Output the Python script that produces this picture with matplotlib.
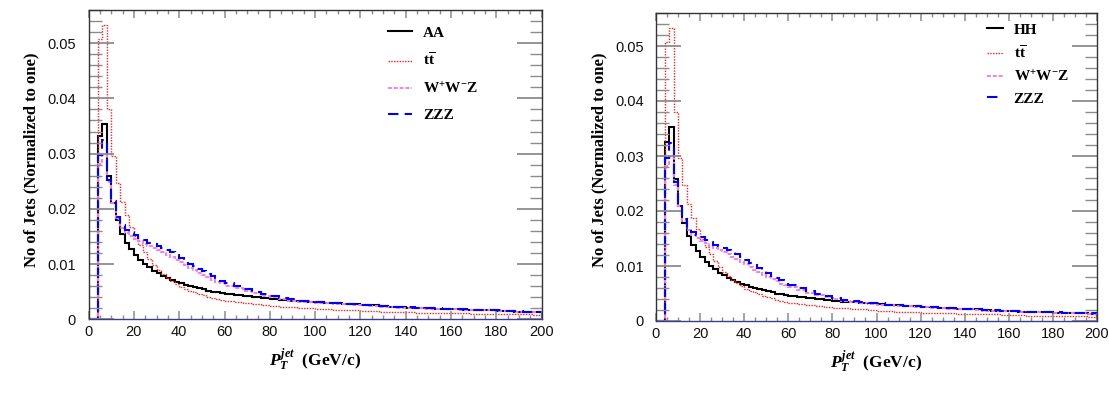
import numpy as np
import matplotlib
matplotlib.use("Agg")
import matplotlib.pyplot as plt

plt.rcParams["mathtext.fontset"] = "custom"
plt.rcParams["mathtext.rm"] = "Liberation Serif:bold"
plt.rcParams["mathtext.it"] = "Liberation Serif:bold:italic"
plt.rcParams["mathtext.bf"] = "Liberation Serif:bold"

# bin edges: empty 0-4 bin, 2 GeV bins up to 60, 4 GeV bins up to 200
edges = np.concatenate([[0], np.arange(4, 60, 2), np.arange(60, 201, 4)])

# jet pT distributions (normalised), one value per bin starting at 4 GeV
aa = [0.0332, 0.0354, 0.0260, 0.0210, 0.0179, 0.0155, 0.0138, 0.0127, 0.0117, 0.0107,
      0.0100, 0.0094, 0.0088, 0.0083, 0.0079, 0.0075, 0.0071, 0.0068, 0.0065, 0.0062,
      0.0060, 0.0058, 0.0056, 0.0054, 0.0052, 0.0050, 0.0049, 0.0047,
      0.0046, 0.0044, 0.0042, 0.0040, 0.0038, 0.0036, 0.0035, 0.0034, 0.0033, 0.0032,
      0.0031, 0.0030, 0.0029, 0.0028, 0.0027, 0.0026, 0.0025, 0.0024, 0.0023, 0.0022,
      0.0021, 0.0021, 0.0020, 0.0019, 0.0019, 0.0018, 0.0017, 0.0017, 0.0016, 0.0016,
      0.0015, 0.0015, 0.0014, 0.0014, 0.0013]
hh = [0.0326, 0.0352, 0.0259, 0.0210, 0.0178, 0.0155, 0.0138, 0.0127, 0.0117, 0.0107,
      0.0100, 0.0094, 0.0088, 0.0083, 0.0079, 0.0075, 0.0071, 0.0068, 0.0065, 0.0062,
      0.0060, 0.0058, 0.0056, 0.0054, 0.0052, 0.0050, 0.0049, 0.0047,
      0.0046, 0.0044, 0.0042, 0.0040, 0.0038, 0.0036, 0.0035, 0.0034, 0.0033, 0.0032,
      0.0031, 0.0030, 0.0029, 0.0028, 0.0027, 0.0026, 0.0025, 0.0024, 0.0023, 0.0022,
      0.0021, 0.0021, 0.0020, 0.0019, 0.0019, 0.0018, 0.0017, 0.0017, 0.0016, 0.0016,
      0.0015, 0.0015, 0.0014, 0.0014, 0.0013]
ttbar = [0.0507, 0.0533, 0.0380, 0.0296, 0.0247, 0.0212, 0.0188, 0.0167, 0.0150, 0.0135,
         0.0121, 0.0109, 0.0099, 0.0090, 0.0082, 0.0075, 0.0069, 0.0064, 0.0059, 0.0055,
         0.0052, 0.0049, 0.0046, 0.0044, 0.0041, 0.0039, 0.0037, 0.0035,
         0.0033, 0.0031, 0.0029, 0.0027, 0.0025, 0.0024, 0.0023, 0.0022, 0.0021, 0.0020,
         0.0019, 0.0018, 0.0017, 0.0017, 0.0016, 0.0015, 0.0015, 0.0014, 0.0014, 0.0013,
         0.0013, 0.0012, 0.0012, 0.0012, 0.0011, 0.0011, 0.0011, 0.0010, 0.0010, 0.0010,
         0.0009, 0.0009, 0.0009, 0.0009, 0.0008]
wwz = [0.0282, 0.0298, 0.0248, 0.0210, 0.0182, 0.0166, 0.0157, 0.0151, 0.0146, 0.0141,
       0.0137, 0.0133, 0.0129, 0.0125, 0.0121, 0.0117, 0.0112, 0.0108, 0.0103, 0.0098,
       0.0093, 0.0089, 0.0084, 0.0080, 0.0076, 0.0072, 0.0068, 0.0065,
       0.0061, 0.0056, 0.0051, 0.0047, 0.0043, 0.0040, 0.0037, 0.0034, 0.0032, 0.0031,
       0.0030, 0.0029, 0.0028, 0.0027, 0.0026, 0.0025, 0.0024, 0.0023, 0.0022, 0.0021,
       0.0021, 0.0020, 0.0019, 0.0019, 0.0018, 0.0018, 0.0017, 0.0017, 0.0016, 0.0016,
       0.0015, 0.0015, 0.0014, 0.0014, 0.0013]
zzz = [0.0297, 0.0324, 0.0253, 0.0215, 0.0185, 0.0170, 0.0162, 0.0157, 0.0152, 0.0147,
       0.0143, 0.0139, 0.0136, 0.0133, 0.0129, 0.0125, 0.0121, 0.0116, 0.0111, 0.0106,
       0.0101, 0.0096, 0.0091, 0.0087, 0.0082, 0.0078, 0.0074, 0.0070,
       0.0066, 0.0060, 0.0055, 0.0050, 0.0046, 0.0042, 0.0039, 0.0036, 0.0034, 0.0033,
       0.0032, 0.0030, 0.0029, 0.0028, 0.0027, 0.0026, 0.0025, 0.0024, 0.0023, 0.0022,
       0.0022, 0.0021, 0.0020, 0.0020, 0.0019, 0.0018, 0.0018, 0.0017, 0.0017, 0.0016,
       0.0016, 0.0015, 0.0015, 0.0014, 0.0014]

xticks = [0, 20, 40, 60, 80, 100, 120, 140, 160, 180, 200]
yticks = [0, 0.01, 0.02, 0.03, 0.04, 0.05]
ytick_labels = ["0", "0.01", "0.02", "0.03", "0.04", "0.05"]

styles = {
    "sig": dict(color="black", lw=1.5, ls="-"),
    "tt": dict(color="#ff2020", lw=1.0, ls=(0, (1, 1))),
    "wwz": dict(color="#f07ff0", lw=1.4, ls=(0, (2, 1))),
    "zzz": dict(color="#0000ff", lw=1.5, ls=(0, (5, 3))),
}

fig = plt.figure(figsize=(11.09, 3.99), dpi=100)


def draw_panel(rect, signal, sig_name, leg_anchor, handlelen, spacing, ylab_x):
    ax = fig.add_axes(rect)
    series = [(signal, sig_name, "sig"),
              (ttbar, r"$\mathrm{t}\overline{\mathrm{t}}$", "tt"),
              (wwz, r"$\mathrm{W^{+}W^{-}Z}$", "wwz"),
              (zzz, "ZZZ", "zzz")]
    handles = []
    for vals, name, key in series:
        v = np.concatenate([[0.0], vals])
        ax.stairs(v, edges, baseline=0, **styles[key])
        h, = ax.plot([], [], label=name, **styles[key])
        handles.append(h)
    ax.set_xlim(0, 200)
    ax.set_ylim(0, 0.056)
    ax.set_xticks(xticks)
    ax.set_xticklabels([str(t) for t in xticks])
    ax.set_xticks(np.arange(0, 201, 5), minor=True)
    ax.set_yticks(yticks)
    ax.set_yticklabels(ytick_labels)
    ax.set_yticks(np.arange(0, 0.0561, 0.002), minor=True)
    ax.tick_params(axis="both", which="both", direction="in", top=True, right=True,
                   color="#8c8c8c", labelsize=10.5, labelcolor="#111111")
    ax.tick_params(axis="x", which="major", length=6, width=1.1, pad=4)
    ax.tick_params(axis="x", which="minor", length=3, width=1.0)
    ax.tick_params(axis="y", which="major", length=18, width=1.3, pad=9)
    ax.tick_params(axis="y", which="minor", length=9, width=1.0)
    for lab in ax.get_xticklabels() + ax.get_yticklabels():
        lab.set_fontfamily("Liberation Sans")
    for s in ax.spines.values():
        s.set_color("#333333")
        s.set_linewidth(1.0)
    ax.spines["bottom"].set_color("#3c3c88")

    ax.set_xlabel(r"$P_T^{jet}$  (GeV/c)", fontsize=12.5, fontfamily="Liberation Serif",
                  fontweight="bold", labelpad=6)
    fig.text(ylab_x, 0.6, "No of Jets (Normalized to one)", rotation=90,
             ha="center", va="center", fontsize=12, fontfamily="Liberation Serif",
             fontweight="bold")

    ax.legend(handles=handles, loc="upper left",
              bbox_to_anchor=leg_anchor, bbox_transform=fig.transFigure,
              frameon=False, borderpad=0, borderaxespad=0,
              handlelength=handlelen, handletextpad=0.7, labelspacing=spacing,
              prop={"family": "Liberation Serif", "weight": "bold", "size": 11})
    return ax


draw_panel([88.6 / 1109, 1 - 319.3 / 399, 453 / 1109, 309.3 / 399], aa, "AA",
           (388 / 1109, 1 - 26 / 399), 1.6, 0.8, 31 / 1109)
draw_panel([656 / 1109, 1 - 321 / 399, 441 / 1109, 308 / 399], hh, "HH",
           (987 / 1109, 1 - 23 / 399), 1.05, 0.5, 599 / 1109)

fig.savefig("out.png", dpi=100)
